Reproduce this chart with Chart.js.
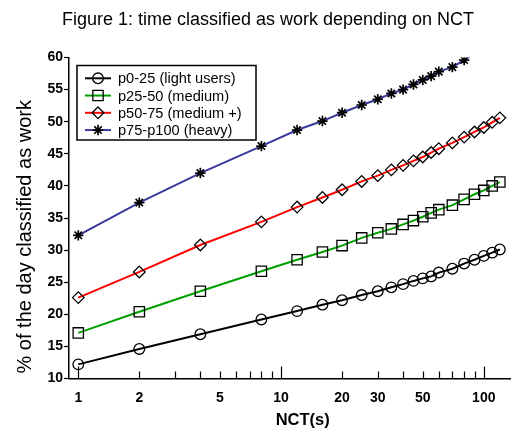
<!DOCTYPE html>
<html><head><meta charset="utf-8">
<script src="https://cdn.jsdelivr.net/npm/chart.js@4/dist/chart.umd.min.js"></script>
<style>html,body{margin:0;padding:0;background:#fff}</style>
</head><body>
<canvas id="c" width="519" height="437"></canvas>
<script>
// ---- data ----
const nct = [1,2,4,8,12,16,20,25,30,35,40,45,50,55,60,70,80,90,100,110,120];
const seriesLabels = ['p0-25 (light users)','p25-50 (medium)','p50-75 (medium +)','p75-p100 (heavy)'];
const light      = [12.2,14.6,16.9,19.2,20.5,21.5,22.2,23.0,23.6,24.2,24.7,25.2,25.6,25.9,26.5,27.1,27.9,28.5,29.1,29.6,30.1];
const medium     = [17.1,20.4,23.6,26.7,28.5,29.7,30.7,31.9,32.7,33.3,34.0,34.6,35.2,35.8,36.3,37.0,37.9,38.7,39.3,40.0,40.6];
const mediumPlus = [22.6,26.6,30.8,34.4,36.7,38.2,39.4,40.7,41.6,42.5,43.2,43.9,44.5,45.2,45.8,46.7,47.6,48.4,49.1,49.9,50.6];
const heavy      = [32.3,37.4,42.0,46.2,48.7,50.1,51.4,52.6,53.5,54.4,55.0,55.8,56.5,57.1,57.8,58.5,59.6,60.6];
const xTickValues = [1,2,3,4,5,6,7,8,9,10,20,30,40,50,60,70,80,90,100];
const xLabeled = [1,2,5,10,20,30,50,100];
const xMajor = [1,10,100];

const FONT = '"Liberation Sans", Arial, sans-serif';
const pts = arr => arr.map((v,i) => ({x: nct[i], y: v}));

const styles = [
  {color:'#000000', point:'circle', r:5.3, bw:1.3},
  {color:'#00a000', point:'rect', r:7.3, bw:1.3},
  {color:'#ff0000', point:'rectRot', r:5.8, bw:1.3},
  {color:'#3a3a9c', point:'star', r:5.2, bw:1.7}
];
const values = [light, medium, mediumPlus, heavy];

const datasets = values.map((arr,i) => ({
  label: seriesLabels[i],
  data: pts(arr),
  borderColor: styles[i].color,
  borderWidth: 2,
  tension: 0,
  pointStyle: styles[i].point,
  pointRadius: c => (c.raw && c.raw.y > 60) ? 0 : styles[i].r,
  pointBorderColor: '#000',
  pointBackgroundColor: 'rgba(0,0,0,0)',
  pointBorderWidth: styles[i].bw,
  _r: styles[i].r, _bw: styles[i].bw
}));

const decor = {
  id: 'decor',
  afterLayout(chart) {
    chart.titleBlock.left = 21; // centre title near x=270
    const xs = chart.scales.x, ys = chart.scales.y;
    if (!xs._patched) {
      const ox = xs.drawTitle;
      xs.drawTitle = function() { const l = this.left; this.left += 26; ox.call(this); this.left = l; };
      xs._patched = true;
    }
    if (!ys._patched) {
      const oy = ys.drawTitle;
      ys.drawTitle = function() { const b = this.bottom; this.bottom -= 5; oy.call(this); this.bottom = b; };
      ys._patched = true;
    }
  },
  afterDraw(chart) {
    const ctx = chart.ctx, xs = chart.scales.x, a = chart.chartArea;
    ctx.save();
    // inward x tick marks
    ctx.strokeStyle = '#000'; ctx.lineWidth = 1.2;
    xTickValues.forEach(v => {
      const px = Math.round(xs.getPixelForValue(v)) + 0.5;
      const len = xMajor.includes(v) ? 12 : 7;
      ctx.beginPath(); ctx.moveTo(px, a.bottom); ctx.lineTo(px, a.bottom - len); ctx.stroke();
    });
    // boxed legend
    const x0 = 77, y0 = 65.5, w = 179, h = 74.5;
    ctx.fillStyle = '#fff'; ctx.fillRect(x0, y0, w, h);
    ctx.strokeStyle = '#000'; ctx.lineWidth = 1.5; ctx.strokeRect(x0, y0, w, h);
    chart.data.datasets.forEach((ds, i) => {
      const y = 78.3 + i * 17.25;
      ctx.strokeStyle = ds.borderColor; ctx.lineWidth = 2;
      ctx.beginPath(); ctx.moveTo(85, y); ctx.lineTo(111, y); ctx.stroke();
      ctx.strokeStyle = '#000'; ctx.fillStyle = 'rgba(0,0,0,0)'; ctx.lineWidth = ds._bw;
      Chart.helpers.drawPoint(ctx, {pointStyle: ds.pointStyle, radius: ds._r, borderWidth: ds._bw, rotation: 0}, 98, y);
      ctx.fillStyle = '#000'; ctx.font = '14.6px ' + FONT; ctx.textBaseline = 'middle'; ctx.textAlign = 'left';
      ctx.fillText(ds.label, 118, y + 1);
    });
    ctx.restore();
  }
};

new Chart(document.getElementById('c'), {
  type: 'line',
  data: { datasets },
  plugins: [decor],
  options: {
    responsive: false, animation: false, devicePixelRatio: 1,
    layout: { padding: { left: 0, right: 4, top: 0, bottom: 0 } },
    plugins: {
      legend: { display: false },
      tooltip: { enabled: false },
      title: {
        display: true,
        text: 'Figure 1: time classified as work depending on NCT',
        color: '#000',
        font: { family: FONT, size: 18, weight: 'normal', lineHeight: 1.2 },
        padding: { top: 9.2, bottom: 26.7 }
      }
    },
    scales: {
      x: {
        type: 'logarithmic', min: 0.9, max: 135.3,
        afterBuildTicks: s => { s.ticks = xTickValues.map(v => ({value: v})); },
        afterFit: s => { s.height = 58.5; },
        grid: { display: true, drawOnChartArea: false, drawTicks: false },
        border: { display: true, color: '#000', width: 1.5 },
        ticks: {
          autoSkip: false, maxRotation: 0, padding: 11, color: '#000',
          font: { family: FONT, size: 14, weight: 'bold' },
          callback: v => xLabeled.includes(v) ? String(v) : ''
        },
        title: {
          display: true, text: 'NCT(s)', color: '#000',
          font: { family: FONT, size: 16.5, weight: 'bold' },
          padding: { top: 0, bottom: 7 }
        }
      },
      y: {
        type: 'linear', min: 10, max: 60,
        afterFit: s => { s.width = 69; },
        grid: { display: true, drawOnChartArea: false, drawTicks: true, tickLength: 5, color: '#000', tickWidth: 1.2 },
        border: { display: true, color: '#000', width: 1.5 },
        ticks: {
          stepSize: 5, padding: 1, color: '#000',
          font: { family: FONT, size: 14, weight: 'bold' }
        },
        title: {
          display: true, text: '% of the day classified as work', color: '#000', align: 'start',
          font: { family: FONT, size: 20, weight: 'normal' },
          padding: { top: 13 }
        }
      }
    }
  }
});
</script>
</body></html>
